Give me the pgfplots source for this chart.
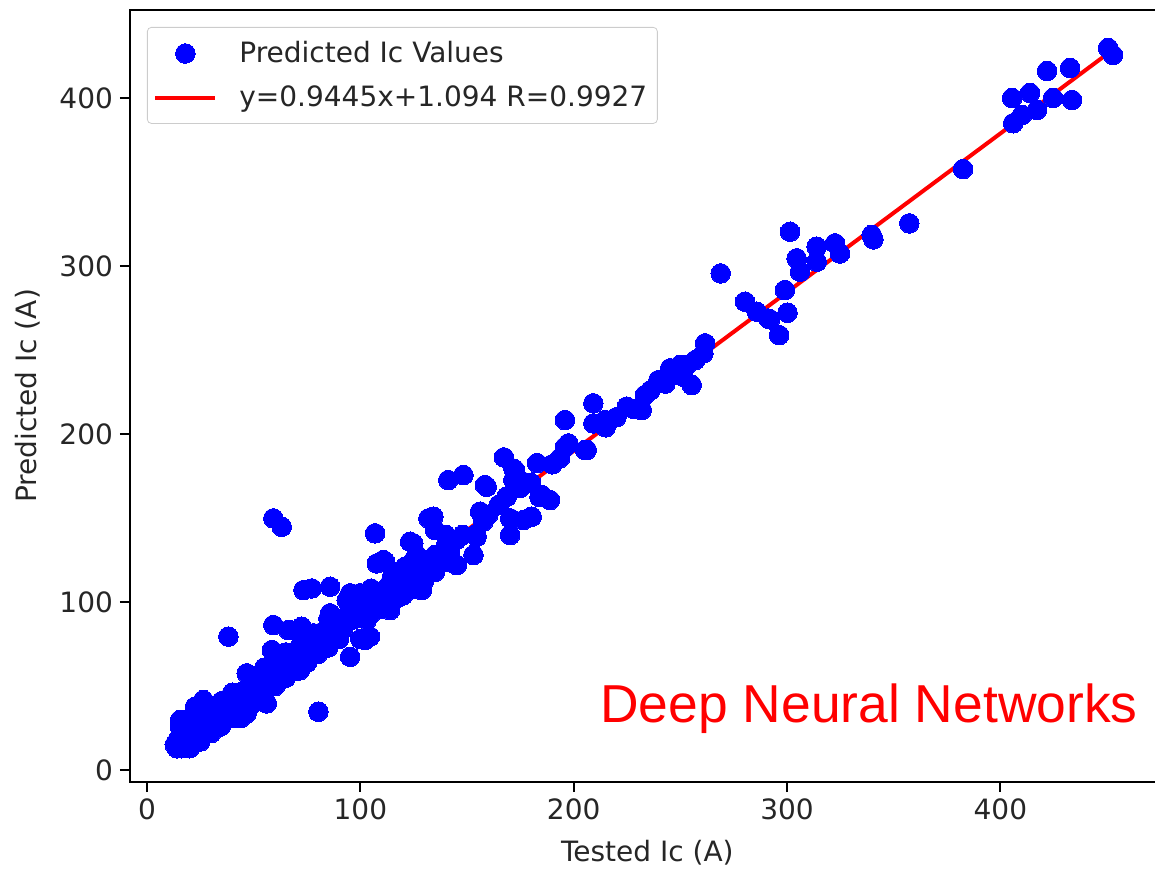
\documentclass[border=0pt]{standalone}
\usepackage{fontspec}
\setmainfont{DejaVu Sans}
\newfontfamily\arialfont{Liberation Sans}
\usepackage{pgfplots}
\pgfplotsset{compat=1.18}
\pgfplotsset{
  scatterleg/.style={legend image code/.code={\draw[mark repeat=2,mark phase=2,##1] plot coordinates {(0pt,0pt) (15pt,0pt) (30pt,0pt)};}},
  lineleg/.style={legend image code/.code={\draw[##1] (0pt,0pt) -- (30pt,0pt);}},
}
\begin{document}
\begin{tikzpicture}
\path[use as bounding box] (-65pt,-45pt) rectangle (512.5pt,391pt);
\clip (-65pt,-45pt) rectangle (512.5pt,391pt);
\begin{axis}[
  at={(0pt,0pt)}, anchor=south west,
  scale only axis,
  width=517.3pt, height=386pt,
  xmin=-8, xmax=477, ymin=-7.1, ymax=452.4,
  xtick={0,100,200,300,400}, ytick={0,100,200,300,400},
  tick pos=left, tick align=outside, major tick length=5pt,
  axis line style={line width=0.9pt},
  every tick/.style={black, line width=0.9pt},
  /pgf/number format/assume math mode=true,
  tick label style={font=\fontsize{14}{16}\selectfont, color=black!85},
  label style={font=\fontsize{14}{16}\selectfont, color=black!85},
  xlabel={Tested Ic (A)}, ylabel={Predicted Ic (A)},
  xlabel style={yshift=-3pt}, ylabel style={yshift=3pt},
  legend style={at={(0.0164,0.978)}, anchor=north west, draw=black!20, rounded corners=2pt,
    font=\fontsize{14}{16}\selectfont, text=black!85, inner xsep=3pt, inner ysep=5pt,
    row sep=6pt, column sep=9pt},
  legend cell align=left,
]
\addplot[blue, only marks, mark=*, mark size=4.9pt, mark options={fill=blue, draw=blue, line width=0pt}, scatterleg]
table[row sep=\\]{
x y\\
450.5 429.8\\ 452.8 425.6\\ 421.9 416.1\\ 432.7 417.9\\ 405.5 400\\ 413.9 403\\ 424.7 400\\ 433.6 398.8\\
417.2 392.9\\ 410.2 389.9\\ 406 385\\ 382.5 357.7\\ 357.3 325.4\\ 339.7 318.5\\ 340.5 315.9\\ 324.8 307.5\\
322.5 313.5\\ 313.9 311.5\\ 304.5 304.6\\ 301.4 320.4\\ 313.9 302.6\\ 306.1 296.6\\ 299 285.7\\ 268.9 295.6\\
280.3 278.8\\ 291.2 268.8\\ 300.2 272.2\\ 296.3 258.9\\ 261.6 254\\ 260.8 248\\ 285.8 272.8\\ 292 268.3\\
255.3 229.2\\ 251.4 234.1\\ 245.2 239.1\\ 249.9 241.1\\ 239.7 232.1\\ 233.4 223.2\\ 231.9 214.3\\ 224.9 216.3\\
209.2 218.3\\ 209.2 206.3\\ 214.7 208.3\\ 206.1 190.5\\ 197.5 194.4\\ 195.9 208.3\\ 193.6 185.7\\ 205.3 190.5\\
195.9 192.3\\ 228 215\\ 236 226\\ 243 230\\ 253 241\\ 257 244\\
184 162.5\\ 188.9 160.7\\ 182.8 182.7\\ 174.8 172.6\\ 172.5 178.6\\ 167.3 186.1\\ 171.7 179.5\\ 171.7 172.6\\
168.6 162.7\\ 185 163.7\\ 180.3 150.8\\ 176.4 148.8\\ 170.2 149.8\\ 170.2 139.9\\ 158.4 169.6\\ 159.2 168.6\\
141.2 172.6\\ 148.3 175.6\\ 156.1 153.8\\ 157.6 147.8\\ 153.8 139.9\\ 153 128\\ 154.5 138.9\\ 131.9 149.8\\
135 142.9\\ 134.2 150.8\\ 123.3 135.9\\ 124.8 134.9\\ 131.1 125\\ 142 130\\ 145.2 122\\ 133.5 119\\
138.1 129\\ 126.4 128\\ 106.9 140.9\\ 107.7 123\\ 111.6 124\\ 110.8 125\\ 120.9 121\\ 113.9 111.1\\
128.8 107.1\\ 99.8 105.2\\ 118.6 103.2\\ 113.9 95.2\\ 103 89.3\\ 95.2 97.2\\ 95.2 105.2\\ 98 104\\
59.2 149.8\\ 63.1 144.8\\ 38.1 79.4\\ 80.3 34.7\\ 73.3 107.1\\ 77.2 108.1\\ 85.8 109.1\\ 59.2 86.3\\
66.2 83.3\\ 72.5 85.3\\ 78 81.4\\ 85.8 93.3\\ 93.6 101.2\\ 95.2 67.4\\ 102.2 77.4\\ 104.5 79.4\\
46.7 57.6\\ 40.5 45.7\\ 54.5 42.7\\ 56.1 39.7\\ 59.2 69.4\\ 62.3 53.6\\ 71.7 59.5\\ 46.7 33.7\\
44 31\\ 34.2 25.8\\ 26.4 41.7\\ 22.5 37.7\\ 17 29.8\\ 15.5 25.8\\ 15.5 29.8\\ 13.9 15.9\\
18.6 15.9\\ 23.3 17.5\\ 38.9 43.6\\ 42 45.7\\ 58.5 71.4\\ 67 83.3\\ 85.8 79.4\\ 100 78\\
13 15\\ 14 17\\ 14 13\\ 15 14\\ 15 19\\ 16 16\\ 16 13\\ 17 18\\ 17 15\\ 18 21\\ 18 16\\ 19 17\\ 19 14\\
20 20\\ 20 24\\ 21 18\\ 21 22\\ 22 19\\ 22 27\\ 23 21\\ 23 18\\ 24 24\\ 24 20\\ 25 22\\ 25 30\\ 26 25\\
26 21\\ 27 23\\ 27 28\\ 28 26\\ 28 33\\ 29 24\\ 30 29\\ 30 26\\ 31 31\\ 32 28\\ 32 35\\ 33 30\\ 34 32\\
34 28\\ 35 34\\ 36 31\\ 36 38\\ 37 35\\ 38 33\\ 38 40\\ 39 36\\ 40 39\\ 40 34\\ 41 42\\ 42 38\\ 43 40\\
43 36\\ 44 43\\ 45 41\\ 45 47\\ 46 42\\ 47 45\\ 48 44\\ 48 39\\ 49 47\\ 50 48\\ 50 44\\ 51 52\\ 52 49\\
53 50\\ 53 46\\ 54 55\\ 55 51\\ 56 53\\ 56 58\\ 57 54\\ 58 52\\ 58 60\\ 59 57\\ 60 56\\ 60 63\\ 61 58\\
62 60\\ 62 66\\ 63 59\\ 64 62\\ 65 64\\ 65 60\\ 66 67\\ 67 63\\ 68 65\\ 68 70\\ 69 66\\ 70 68\\ 70 64\\
71 71\\ 72 67\\ 72 74\\ 73 70\\ 74 72\\ 75 71\\ 75 76\\ 76 73\\ 77 75\\ 77 70\\ 78 77\\ 79 74\\ 80 76\\
80 80\\ 81 78\\ 82 75\\ 82 82\\ 83 79\\ 84 80\\ 85 82\\ 85 78\\ 86 84\\ 87 83\\ 88 81\\ 88 86\\ 89 85\\
90 84\\ 90 88\\ 91 86\\ 92 90\\ 92 84\\ 93 88\\ 94 91\\ 95 89\\ 95 94\\ 96 92\\ 97 90\\ 98 93\\ 98 97\\
99 94\\ 100 96\\ 100 92\\ 101 98\\ 102 95\\ 103 100\\ 104 97\\ 105 99\\ 105 103\\ 106 101\\ 107 98\\
108 104\\ 109 101\\ 110 106\\ 110 100\\ 111 103\\ 112 108\\ 113 105\\ 114 107\\ 115 103\\ 116 110\\
117 106\\ 118 112\\ 119 108\\ 120 110\\ 121 114\\ 122 109\\ 123 117\\ 124 113\\ 125 111\\ 126 119\\
127 115\\ 128 121\\ 129 117\\ 130 113\\ 131 124\\ 133 120\\ 135 128\\ 137 126\\ 140 133\\ 142 130\\
145 137\\ 148 140\\ 160 152\\ 165 158\\ 175 168\\ 180 171\\ 190 182\\ 215 204\\ 220 210\\
20 13\\ 25 17\\ 30 22\\ 35 27\\ 40 31\\ 45 36\\ 50 40\\ 55 45\\ 60 50\\ 65 55\\ 70 59\\ 75 64\\
80 69\\ 85 73\\ 90 78\\ 105 93\\ 110 96\\ 115 100\\ 120 104\\ 125 108\\ 135 118\\ 140 124\\
30 36\\ 35 41\\ 40 46\\ 50 55\\ 55 61\\ 65 70\\ 75 80\\ 85 90\\ 105 108\\ 115 116\\ 125 125\\ 140 140\\
};
\addlegendentry{Predicted Ic Values}
\addplot[red, line width=2pt, lineleg]
coordinates {(13,13.37) (455,430.84)};
\addlegendentry{y=0.9445x+1.094 R=0.9927}
\node[anchor=base west, text=red, font=\arialfont\fontsize{26.7}{30}\selectfont, inner sep=0pt]
  at (rel axis cs:0.4543,0.0777) {Deep Neural Networks};
\end{axis}
\end{tikzpicture}
\end{document}
